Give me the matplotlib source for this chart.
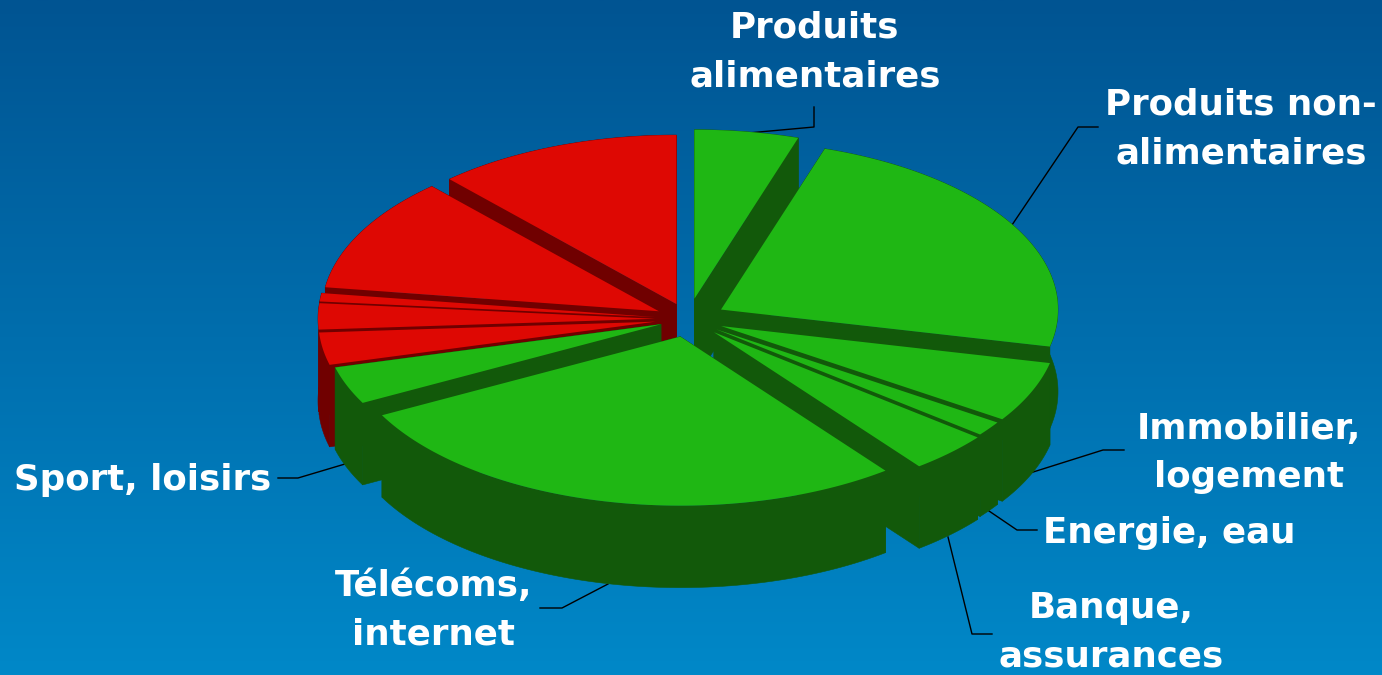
#!/usr/bin/python3

# Exploded 3D pie of household spending, drawn by hand with polygons
# because matplotlib has no extruded pie.

import numpy as np
import matplotlib
matplotlib.use('Agg')
import matplotlib.pyplot as plt
from matplotlib.patches import Polygon


# --------------------------------------------------------------------
# DATA
# --------------------------------------------------------------------

# Clockwise from twelve o'clock
categories = ['Produits\nalimentaires', 'Produits non-\nalimentaires',
              'Immobilier,\nlogement', 'Energie, eau', 'Banque,\nassurances',
              'Télécoms,\ninternet', 'Sport, loisirs',
              '', '', '', '', '']
shares = [5.0, 23.6, 5.8, 1.4, 3.9, 27.8, 3.6, 3.1, 2.5, 0.8, 11.0, 11.8]
groups = ['g', 'g', 'g', 'g', 'g', 'g', 'g', 'r', 'r', 'r', 'r', 'r']
explode = [41, 38, 36, 35, 37, 36, 29, 33, 33, 33, 33, 32]


# --------------------------------------------------------------------
# LAYOUT
# --------------------------------------------------------------------

W, H = 1382, 675
CX, CY = 688, 319
RX, RY = 337, 169
DEPTH = 82

top_col = {'g': '#1fb714', 'r': '#de0803'}
side_col = {'g': '#12590a', 'r': '#700000'}

# label centre (x, y) and the elbow line going to the pie, by category
label_pos = [(815, 52), (1241, 129), (1249, 453), (1169, 533), (1111, 632),
             (434, 610), (143, 480)]
leaders = [[(748, 133), (814, 127), (814, 107)],
           [(1012, 225), (1078, 127), (1098, 127)],
           [(1030, 473), (1103, 450), (1124, 450)],
           [(989, 511), (1017, 530), (1037, 530)],
           [(948, 537), (972, 634), (992, 634)],
           [(608, 584), (562, 608), (540, 608)],
           [(345, 464), (298, 478), (278, 478)]]


# --------------------------------------------------------------------
# PLOT
# --------------------------------------------------------------------

fig = plt.figure(figsize=(W / 100, H / 100), dpi=100)
ax = fig.add_axes([0, 0, 1, 1])
ax.set_xlim(0, W)
ax.set_ylim(H, 0)
ax.axis('off')

# Vertical background gradient
t = np.linspace(0, 1, 256)[:, None, None]
bg = (1 - t) * np.array([0, 84, 146]) + t * np.array([0, 136, 200])
ax.imshow(bg / 255, extent=(0, W, H, 0), aspect='auto', zorder=0)

for pts in leaders:
    xs, ys = zip(*pts)
    ax.plot(xs, ys, color='black', lw=1, zorder=1)

# Slice geometry from the shares
edges = np.concatenate([[0], np.cumsum(shares)]) / np.sum(shares) * 2 * np.pi
slices = []
for i in range(len(shares)):
    a0, a1 = edges[i], edges[i + 1]
    mid = (a0 + a1) / 2
    ox = CX + explode[i] * np.sin(mid)
    oy = CY - explode[i] * np.cos(mid) * RY / RX
    ang = np.linspace(a0, a1, 80)
    arc = np.column_stack([ox + RX * np.sin(ang), oy - RY * np.cos(ang)])
    slices.append((np.cos(mid), i, np.array([ox, oy]), arc))

# Paint back to front so nearer slices cover the walls behind them
down = np.array([0, DEPTH])
z = 2
for _, i, apex, arc in sorted(slices, key=lambda s: -s[0]):
    side = side_col[groups[i]]
    walls = [np.vstack([arc, arc[::-1] + down]),
             np.array([apex, arc[0], arc[0] + down, apex + down]),
             np.array([apex, arc[-1], arc[-1] + down, apex + down])]
    for w in walls:
        ax.add_patch(Polygon(w, closed=True, fc=side, ec=side, lw=0.4, zorder=z))
    ax.add_patch(Polygon(np.vstack([apex, arc]), closed=True,
                         fc=top_col[groups[i]], ec='none', zorder=z + 1))
    z += 2

for name, (x, y) in zip(categories, label_pos):
    ax.text(x, y, name, color='white', fontsize=25.7, fontweight='bold',
            family='DejaVu Sans', ha='center', va='center', linespacing=1.52,
            zorder=100)

plt.savefig('out.png', dpi=100)
